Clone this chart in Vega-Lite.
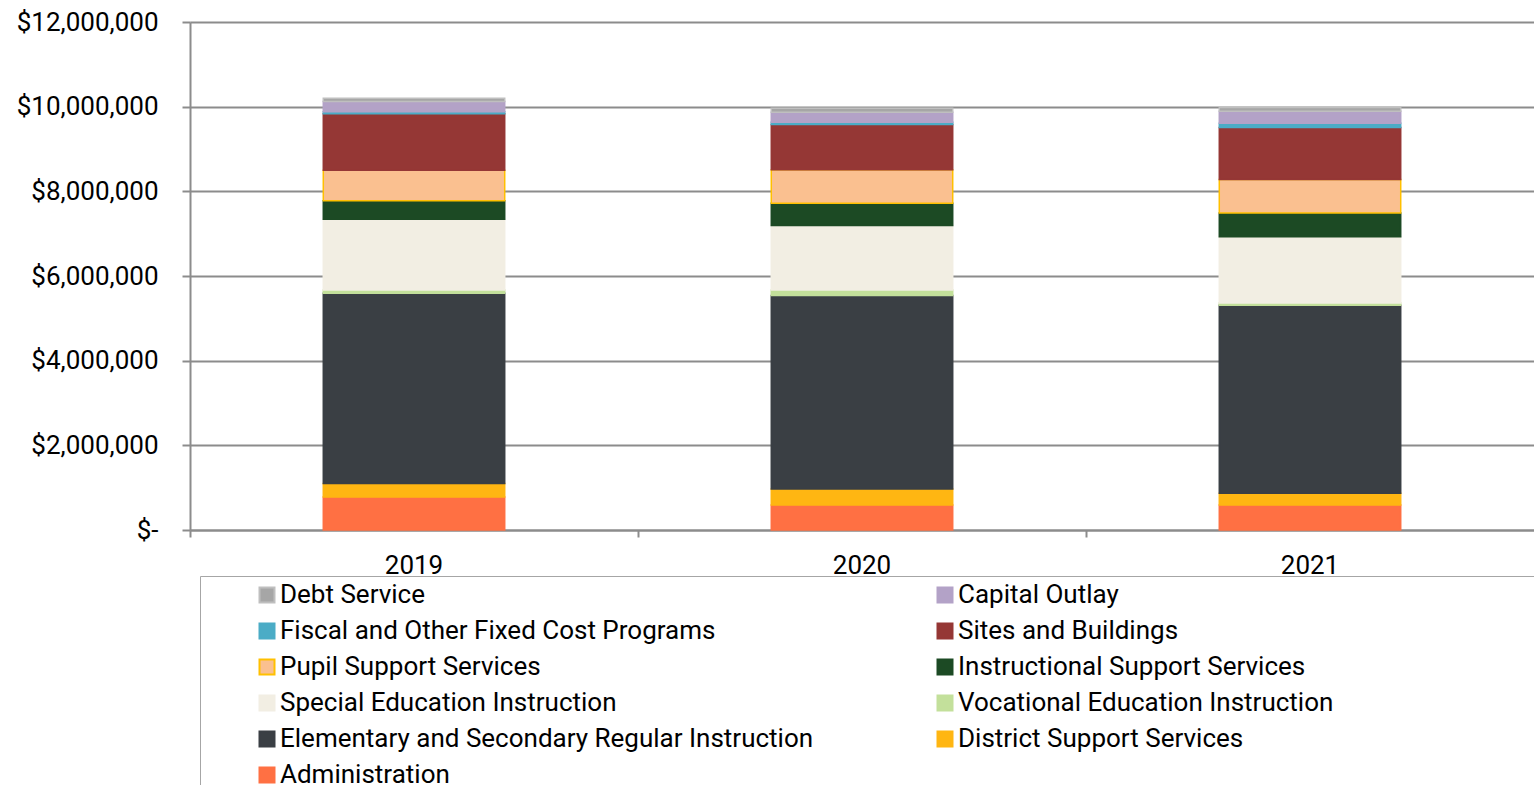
{
  "$schema": "https://vega.github.io/schema/vega-lite/v6.json",
  "autosize": {"type": "none"},
  "width": 1344,
  "height": 508,
  "padding": {"left": 190, "top": 22, "right": 0, "bottom": 255},
  "background": "white",
  "config": {
    "view": {"stroke": null},
    "font": "Roboto",
    "axis": {"labelFont": "Roboto", "labelColor": "#000000"}
  },
  "data": {
    "values": [
      {"year": "2019", "category": "Administration", "value": 780000, "k": 1},
      {"year": "2019", "category": "District Support Services", "value": 320000, "k": 2},
      {"year": "2019", "category": "Elementary and Secondary Regular Instruction", "value": 4490000, "k": 3},
      {"year": "2019", "category": "Vocational Education Instruction", "value": 80000, "k": 4},
      {"year": "2019", "category": "Special Education Instruction", "value": 1670000, "k": 5},
      {"year": "2019", "category": "Instructional Support Services", "value": 440000, "k": 6},
      {"year": "2019", "category": "Pupil Support Services", "value": 720000, "k": 7},
      {"year": "2019", "category": "Sites and Buildings", "value": 1330000, "k": 8},
      {"year": "2019", "category": "Fiscal and Other Fixed Cost Programs", "value": 50000, "k": 9},
      {"year": "2019", "category": "Capital Outlay", "value": 240000, "k": 10},
      {"year": "2019", "category": "Debt Service", "value": 80000, "k": 11},
      {"year": "2020", "category": "Administration", "value": 590000, "k": 1},
      {"year": "2020", "category": "District Support Services", "value": 380000, "k": 2},
      {"year": "2020", "category": "Elementary and Secondary Regular Instruction", "value": 4570000, "k": 3},
      {"year": "2020", "category": "Vocational Education Instruction", "value": 130000, "k": 4},
      {"year": "2020", "category": "Special Education Instruction", "value": 1520000, "k": 5},
      {"year": "2020", "category": "Instructional Support Services", "value": 530000, "k": 6},
      {"year": "2020", "category": "Pupil Support Services", "value": 790000, "k": 7},
      {"year": "2020", "category": "Sites and Buildings", "value": 1070000, "k": 8},
      {"year": "2020", "category": "Fiscal and Other Fixed Cost Programs", "value": 50000, "k": 9},
      {"year": "2020", "category": "Capital Outlay", "value": 240000, "k": 10},
      {"year": "2020", "category": "Debt Service", "value": 90000, "k": 11},
      {"year": "2021", "category": "Administration", "value": 590000, "k": 1},
      {"year": "2021", "category": "District Support Services", "value": 280000, "k": 2},
      {"year": "2021", "category": "Elementary and Secondary Regular Instruction", "value": 4440000, "k": 3},
      {"year": "2021", "category": "Vocational Education Instruction", "value": 50000, "k": 4},
      {"year": "2021", "category": "Special Education Instruction", "value": 1570000, "k": 5},
      {"year": "2021", "category": "Instructional Support Services", "value": 560000, "k": 6},
      {"year": "2021", "category": "Pupil Support Services", "value": 790000, "k": 7},
      {"year": "2021", "category": "Sites and Buildings", "value": 1230000, "k": 8},
      {"year": "2021", "category": "Fiscal and Other Fixed Cost Programs", "value": 100000, "k": 9},
      {"year": "2021", "category": "Capital Outlay", "value": 280000, "k": 10},
      {"year": "2021", "category": "Debt Service", "value": 90000, "k": 11}
    ]
  },
  "mark": {"type": "bar", "width": {"band": 0.405}, "strokeWidth": 1.5},
  "encoding": {
    "x": {
      "field": "year",
      "type": "nominal",
      "scale": {"paddingInner": 0, "paddingOuter": 0},
      "axis": {
        "title": null,
        "labelAngle": 0,
        "labelFontSize": 26,
        "labelPadding": 15,
        "bandPosition": 0,
        "tickSize": 7,
        "tickColor": "#8c8c8c",
        "tickWidth": 2,
        "domainColor": "#8c8c8c",
        "domainWidth": 2,
        "grid": false
      }
    },
    "y": {
      "field": "value",
      "type": "quantitative",
      "stack": "zero",
      "scale": {"domain": [0, 12000000], "nice": false},
      "axis": {
        "title": null,
        "values": [0, 2000000, 4000000, 6000000, 8000000, 10000000, 12000000],
        "labelExpr": "datum.value === 0 ? '$-' : '$' + format(datum.value, ',')",
        "labelFontSize": 26,
        "labelPadding": 24,
        "tickSize": 8,
        "tickColor": "#8c8c8c",
        "tickWidth": 2,
        "domainColor": "#8c8c8c",
        "domainWidth": 2,
        "gridColor": "#8c8c8c",
        "gridWidth": 2
      }
    },
    "order": {"field": "k", "type": "quantitative", "sort": "ascending"},
    "color": {
      "field": "category",
      "type": "nominal",
      "scale": {
        "domain": ["Debt Service", "Fiscal and Other Fixed Cost Programs", "Pupil Support Services", "Special Education Instruction", "Elementary and Secondary Regular Instruction", "Administration", "Capital Outlay", "Sites and Buildings", "Instructional Support Services", "Vocational Education Instruction", "District Support Services"],
        "range": ["#a6a6a6", "#4bacc6", "#fac090", "#f2eee3", "#3a3f44", "#ff7043", "#b3a2c7", "#953735", "#1c4a24", "#c3e09b", "#ffb612"]
      },
      "legend": {
        "title": ".",
        "titleColor": "transparent",
        "titleFontSize": 1,
        "titleOrient": "right",
        "titlePadding": 220,
        "orient": "none",
        "legendX": 10,
        "legendY": 554,
        "columns": 2,
        "columnPadding": 70,
        "rowPadding": 10,
        "padding": 6,
        "strokeColor": "#a6a6a6",
        "symbolType": "square",
        "symbolSize": 225,
        "symbolStrokeWidth": 2,
        "symbolOffset": 48,
        "labelFont": "Roboto",
        "labelFontSize": 26,
        "labelColor": "#000000",
        "labelOffset": 0,
        "labelLimit": 0
      }
    },
    "stroke": {
      "field": "category",
      "type": "nominal",
      "scale": {
        "domain": ["Debt Service", "Fiscal and Other Fixed Cost Programs", "Pupil Support Services", "Special Education Instruction", "Elementary and Secondary Regular Instruction", "Administration", "Capital Outlay", "Sites and Buildings", "Instructional Support Services", "Vocational Education Instruction", "District Support Services"],
        "range": ["#bfbfbf", "#4bacc6", "#ffc000", "#f2eee3", "#3a3f44", "#ff7043", "#b3a2c7", "#953735", "#1c4a24", "#c3e09b", "#ffb612"]
      }
    }
  }
}
